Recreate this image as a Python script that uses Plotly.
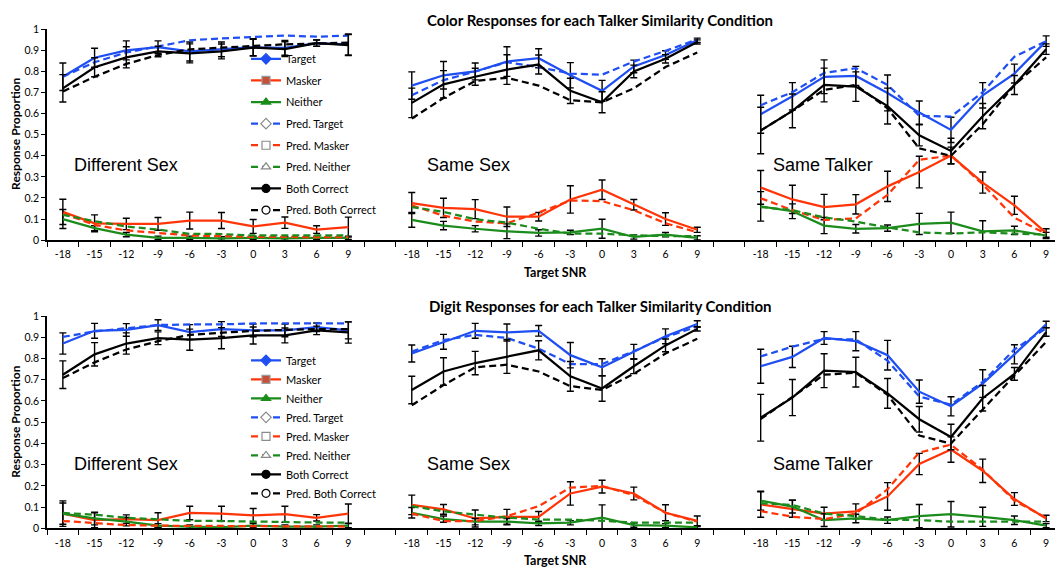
import plotly.graph_objects as go

# ---------------- data ----------------
snr = [-18, -15, -12, -9, -6, -3, 0, 3, 6, 9]
snr_labels = ["-18", "-15", "-12", "-9", "-6", "-3", "0", "3", "6", "9"]
conditions = ["Different Sex", "Same Sex", "Same Talker"]
row_titles = ["Color Responses for each Talker Similarity Condition",
              "Digit Responses for each Talker Similarity Condition"]
series_names = ["Target", "Masker", "Neither", "Pred. Target", "Pred. Masker",
                "Pred. Neither", "Both Correct", "Pred. Both Correct"]

# Color responses - Different Sex
c_ds_tgt = [0.775, 0.865, 0.90, 0.915, 0.895, 0.905, 0.915, 0.912, 0.935, 0.928]
c_ds_tgt_err = [0.065, 0.045, 0.045, 0.03, 0.045, 0.035, 0.04, 0.035, 0.015, 0.05]
c_ds_msk = [0.134, 0.08, 0.077, 0.077, 0.093, 0.093, 0.065, 0.083, 0.05, 0.062]
c_ds_msk_err = [0.06, 0.04, 0.027, 0.03, 0.04, 0.038, 0.033, 0.027, 0.018, 0.047]
c_ds_nei = [0.10, 0.057, 0.026, 0.011, 0.011, 0.008, 0.011, 0.008, 0.011, 0.011]
c_ds_nei_err = [0.045, 0.012, 0.01, 0.008, 0.008, 0.008, 0.008, 0.008, 0.008, 0.008]
c_ds_ptgt = [0.775, 0.844, 0.89, 0.918, 0.948, 0.957, 0.963, 0.97, 0.965, 0.97]
c_ds_pmsk = [0.127, 0.072, 0.046, 0.034, 0.022, 0.019, 0.015, 0.015, 0.014, 0.014]
c_ds_pnei = [0.12, 0.09, 0.065, 0.05, 0.03, 0.029, 0.022, 0.022, 0.022, 0.022]
c_ds_both = [0.72, 0.82, 0.867, 0.895, 0.886, 0.895, 0.913, 0.906, 0.934, 0.925]
c_ds_both_err = [0.065, 0.045, 0.05, 0.025, 0.045, 0.035, 0.04, 0.035, 0.015, 0.05]
c_ds_pboth = [0.705, 0.775, 0.836, 0.878, 0.905, 0.913, 0.921, 0.929, 0.932, 0.937]

# Color responses - Same Sex
c_ss_tgt = [0.733, 0.782, 0.80, 0.847, 0.863, 0.782, 0.708, 0.824, 0.878, 0.948]
c_ss_tgt_err = [0.065, 0.065, 0.04, 0.07, 0.045, 0.06, 0.05, 0.03, 0.02, 0.01]
c_ss_msk = [0.176, 0.153, 0.147, 0.111, 0.111, 0.193, 0.239, 0.168, 0.10, 0.049]
c_ss_msk_err = [0.05, 0.046, 0.045, 0.046, 0.02, 0.065, 0.046, 0.025, 0.03, 0.012]
c_ss_nei = [0.096, 0.069, 0.054, 0.042, 0.034, 0.037, 0.054, 0.015, 0.026, 0.011]
c_ss_nei_err = [0.035, 0.02, 0.015, 0.035, 0.015, 0.01, 0.045, 0.01, 0.01, 0.01]
c_ss_ptgt = [0.687, 0.759, 0.80, 0.844, 0.821, 0.79, 0.785, 0.847, 0.898, 0.952]
c_ss_pmsk = [0.165, 0.116, 0.088, 0.08, 0.131, 0.188, 0.185, 0.142, 0.08, 0.037]
c_ss_pnei = [0.157, 0.134, 0.099, 0.083, 0.054, 0.031, 0.031, 0.023, 0.019, 0.019]
c_ss_both = [0.651, 0.739, 0.775, 0.809, 0.833, 0.708, 0.654, 0.80, 0.86, 0.94]
c_ss_both_err = [0.07, 0.065, 0.04, 0.07, 0.045, 0.06, 0.05, 0.03, 0.02, 0.01]
c_ss_pboth = [0.577, 0.674, 0.755, 0.77, 0.733, 0.664, 0.654, 0.72, 0.821, 0.89]

# Color responses - Same Talker
c_st_tgt = [0.597, 0.682, 0.775, 0.779, 0.698, 0.605, 0.523, 0.687, 0.79, 0.944]
c_st_tgt_err = [0.09, 0.065, 0.08, 0.045, 0.085, 0.055, 0.06, 0.06, 0.045, 0.025]
c_st_msk = [0.25, 0.193, 0.157, 0.17, 0.255, 0.323, 0.401, 0.273, 0.165, 0.034]
c_st_msk_err = [0.08, 0.067, 0.06, 0.046, 0.072, 0.075, 0.04, 0.05, 0.043, 0.02]
c_st_nei = [0.16, 0.137, 0.069, 0.054, 0.057, 0.077, 0.083, 0.042, 0.046, 0.022]
c_st_nei_err = [0.07, 0.035, 0.038, 0.02, 0.015, 0.05, 0.05, 0.05, 0.02, 0.015]
c_st_ptgt = [0.64, 0.702, 0.793, 0.816, 0.736, 0.59, 0.586, 0.702, 0.87, 0.944]
c_st_pmsk = [0.199, 0.142, 0.096, 0.103, 0.215, 0.381, 0.401, 0.265, 0.106, 0.03]
c_st_pnei = [0.157, 0.142, 0.108, 0.088, 0.06, 0.037, 0.031, 0.037, 0.031, 0.026]
c_st_both = [0.52, 0.613, 0.736, 0.728, 0.636, 0.497, 0.423, 0.588, 0.736, 0.906]
c_st_both_err = [0.11, 0.08, 0.08, 0.07, 0.085, 0.05, 0.06, 0.06, 0.045, 0.025]
c_st_pboth = [0.52, 0.613, 0.713, 0.736, 0.625, 0.435, 0.40, 0.55, 0.736, 0.867]

# Digit responses - Different Sex
d_ds_tgt = [0.871, 0.931, 0.935, 0.958, 0.925, 0.939, 0.933, 0.933, 0.948, 0.933]
d_ds_tgt_err = [0.05, 0.035, 0.03, 0.025, 0.035, 0.035, 0.03, 0.03, 0.02, 0.04]
d_ds_msk = [0.069, 0.038, 0.043, 0.038, 0.072, 0.069, 0.061, 0.066, 0.049, 0.069]
d_ds_msk_err = [0.06, 0.035, 0.02, 0.035, 0.032, 0.035, 0.032, 0.038, 0.015, 0.045]
d_ds_nei = [0.069, 0.046, 0.031, 0.012, 0.008, 0.004, 0.012, 0.008, 0.008, 0.012]
d_ds_nei_err = [0.05, 0.03, 0.02, 0.01, 0.008, 0.004, 0.01, 0.008, 0.008, 0.01]
d_ds_ptgt = [0.902, 0.928, 0.943, 0.958, 0.961, 0.961, 0.966, 0.966, 0.966, 0.966]
d_ds_pmsk = [0.034, 0.023, 0.015, 0.012, 0.011, 0.011, 0.011, 0.008, 0.008, 0.008]
d_ds_pnei = [0.072, 0.064, 0.049, 0.041, 0.035, 0.034, 0.031, 0.031, 0.027, 0.026]
d_ds_both = [0.724, 0.82, 0.871, 0.896, 0.889, 0.896, 0.909, 0.909, 0.933, 0.923]
d_ds_both_err = [0.065, 0.055, 0.05, 0.03, 0.05, 0.05, 0.04, 0.035, 0.02, 0.05]
d_ds_pboth = [0.708, 0.782, 0.843, 0.882, 0.912, 0.923, 0.931, 0.935, 0.939, 0.939]

# Digit responses - Same Sex
d_ss_tgt = [0.824, 0.879, 0.931, 0.923, 0.931, 0.816, 0.759, 0.832, 0.905, 0.963]
d_ss_tgt_err = [0.04, 0.035, 0.035, 0.04, 0.025, 0.06, 0.04, 0.035, 0.035, 0.015]
d_ss_msk = [0.11, 0.089, 0.046, 0.054, 0.054, 0.164, 0.196, 0.164, 0.073, 0.035]
d_ss_msk_err = [0.046, 0.023, 0.04, 0.035, 0.025, 0.055, 0.03, 0.03, 0.038, 0.023]
d_ss_nei = [0.073, 0.043, 0.031, 0.031, 0.023, 0.026, 0.05, 0.015, 0.012, 0.004]
d_ss_nei_err = [0.025, 0.015, 0.015, 0.015, 0.01, 0.01, 0.06, 0.01, 0.01, 0.005]
d_ss_ptgt = [0.833, 0.887, 0.912, 0.897, 0.847, 0.774, 0.774, 0.835, 0.901, 0.951]
d_ss_pmsk = [0.069, 0.034, 0.034, 0.057, 0.104, 0.192, 0.199, 0.156, 0.073, 0.031]
d_ss_pnei = [0.104, 0.08, 0.064, 0.05, 0.041, 0.041, 0.035, 0.027, 0.027, 0.027]
d_ss_both = [0.652, 0.739, 0.779, 0.81, 0.839, 0.716, 0.659, 0.764, 0.862, 0.94]
d_ss_both_err = [0.065, 0.065, 0.055, 0.08, 0.045, 0.07, 0.06, 0.035, 0.03, 0.01]
d_ss_pboth = [0.58, 0.675, 0.759, 0.771, 0.739, 0.67, 0.652, 0.728, 0.824, 0.893]

# Digit responses - Same Talker
d_st_tgt = [0.764, 0.808, 0.897, 0.882, 0.816, 0.644, 0.575, 0.682, 0.82, 0.961]
d_st_tgt_err = [0.08, 0.05, 0.03, 0.045, 0.07, 0.055, 0.045, 0.065, 0.045, 0.015]
d_st_msk = [0.112, 0.092, 0.069, 0.08, 0.15, 0.303, 0.371, 0.271, 0.138, 0.046]
d_st_msk_err = [0.06, 0.04, 0.03, 0.035, 0.065, 0.05, 0.06, 0.055, 0.03, 0.015]
d_st_nei = [0.13, 0.102, 0.038, 0.046, 0.038, 0.057, 0.066, 0.054, 0.038, 0.012]
d_st_nei_err = [0.045, 0.03, 0.03, 0.02, 0.015, 0.055, 0.06, 0.045, 0.02, 0.01]
d_st_ptgt = [0.81, 0.856, 0.893, 0.89, 0.79, 0.621, 0.583, 0.69, 0.843, 0.943]
d_st_pmsk = [0.081, 0.054, 0.043, 0.069, 0.184, 0.357, 0.394, 0.276, 0.13, 0.049]
d_st_pnei = [0.118, 0.11, 0.069, 0.057, 0.041, 0.038, 0.031, 0.031, 0.034, 0.031]
d_st_both = [0.521, 0.616, 0.743, 0.736, 0.636, 0.514, 0.43, 0.613, 0.728, 0.925]
d_st_both_err = [0.11, 0.085, 0.08, 0.07, 0.07, 0.06, 0.06, 0.06, 0.03, 0.02]
d_st_pboth = [0.515, 0.621, 0.724, 0.733, 0.629, 0.437, 0.399, 0.56, 0.72, 0.879]

# ---------------- assemble ----------------
def panel(tgt, tgt_err, msk, msk_err, nei, nei_err, ptgt, pmsk, pnei, both, both_err, pboth):
    return [(tgt, tgt_err), (msk, msk_err), (nei, nei_err), (ptgt, None), (pmsk, None),
            (pnei, None), (both, both_err), (pboth, None)]

panels = [
    [panel(c_ds_tgt, c_ds_tgt_err, c_ds_msk, c_ds_msk_err, c_ds_nei, c_ds_nei_err,
           c_ds_ptgt, c_ds_pmsk, c_ds_pnei, c_ds_both, c_ds_both_err, c_ds_pboth),
     panel(c_ss_tgt, c_ss_tgt_err, c_ss_msk, c_ss_msk_err, c_ss_nei, c_ss_nei_err,
           c_ss_ptgt, c_ss_pmsk, c_ss_pnei, c_ss_both, c_ss_both_err, c_ss_pboth),
     panel(c_st_tgt, c_st_tgt_err, c_st_msk, c_st_msk_err, c_st_nei, c_st_nei_err,
           c_st_ptgt, c_st_pmsk, c_st_pnei, c_st_both, c_st_both_err, c_st_pboth)],
    [panel(d_ds_tgt, d_ds_tgt_err, d_ds_msk, d_ds_msk_err, d_ds_nei, d_ds_nei_err,
           d_ds_ptgt, d_ds_pmsk, d_ds_pnei, d_ds_both, d_ds_both_err, d_ds_pboth),
     panel(d_ss_tgt, d_ss_tgt_err, d_ss_msk, d_ss_msk_err, d_ss_nei, d_ss_nei_err,
           d_ss_ptgt, d_ss_pmsk, d_ss_pnei, d_ss_both, d_ss_both_err, d_ss_pboth),
     panel(d_st_tgt, d_st_tgt_err, d_st_msk, d_st_msk_err, d_st_nei, d_st_nei_err,
           d_st_ptgt, d_st_pmsk, d_st_pnei, d_st_both, d_st_both_err, d_st_pboth)],
]

# ---------------- styles ----------------
BLUE = "#1f4ff2"
RED = "#ff3508"
GREEN = "#1b8c1b"
BLACK = "#000000"
DASH = "7px,4px"
styles = [
    dict(color=BLUE, dash="solid", symbol="diamond", mfill=BLUE, mline=BLUE),
    dict(color=RED, dash="solid", symbol="square", mfill="#c4503a", mline="#9a9a9a"),
    dict(color=GREEN, dash="solid", symbol="triangle-up", mfill=GREEN, mline=GREEN),
    dict(color=BLUE, dash=DASH, symbol="diamond", mfill="white", mline="#8a8a8a"),
    dict(color=RED, dash=DASH, symbol="square", mfill="white", mline="#8a8a8a"),
    dict(color=GREEN, dash=DASH, symbol="triangle-up", mfill="white", mline="#8a8a8a"),
    dict(color=BLACK, dash="solid", symbol="circle", mfill=BLACK, mline=BLACK),
    dict(color=BLACK, dash=DASH, symbol="circle", mfill="white", mline=BLACK),
]

# page (screenshot) pixel -> paper coordinates; page body has an 8px margin
OX, OY = 8, 8
W, H = 1055, 570


def px(x):
    return (x - OX) / W


def py(y):
    return 1 - (y - OY) / H


x_px = [(47, 380.06), (380.06, 728.96), (728.96, 1062)]
x_rng = [(-19.5, 12), (-21, 12), (-21, 10.5)]
y_px = [(23, 239), (316, 533.3)]
minor_ticks = [snr[0] - 1.5] + [v + 1.5 for v in snr]

TICKFONT = dict(family="Lato", size=10.5, color="black")
fig = go.Figure()
layout = {}

for r in range(2):
    for c in range(3):
        k = r * 3 + c + 1
        xa = "x" if k == 1 else f"x{k}"
        ya = "y" if k == 1 else f"y{k}"
        for s_idx, (vals, err) in enumerate(panels[r][c]):
            st = styles[s_idx]
            tr = dict(x=snr, y=vals, mode="lines",
                      line=dict(color=st["color"], width=2.25, dash=st["dash"]),
                      showlegend=False, hoverinfo="skip", xaxis=xa, yaxis=ya)
            if err is not None:
                tr["error_y"] = dict(type="data", array=err, visible=True, color="black",
                                     thickness=1.4, width=3.5)
            fig.add_trace(go.Scatter(**tr))
        x0, x1 = x_px[c]
        layout["xaxis" if k == 1 else f"xaxis{k}"] = dict(
            domain=[px(x0), px(x1)], range=list(x_rng[c]), anchor=ya,
            showline=True, linecolor="black", linewidth=1.5, showgrid=False, zeroline=False,
            tickmode="array", tickvals=snr, ticktext=snr_labels, ticks="outside",
            tickcolor="rgba(0,0,0,0)", ticklen=4, tickfont=TICKFONT,
            minor=dict(tickmode="array", tickvals=minor_ticks, ticks="outside",
                       ticklen=5, tickwidth=1, tickcolor="black"),
        )
        yt, yb = y_px[r]
        layout["yaxis" if k == 1 else f"yaxis{k}"] = dict(
            domain=[py(yb), py(yt)], range=[0, 1.003], anchor=xa,
            showgrid=False, zeroline=False,
            showline=(c == 0), linecolor="black", linewidth=1.5,
            ticks="outside" if c == 0 else "", ticklen=4, tickcolor="black",
            tickmode="linear", tick0=0, dtick=0.1, showticklabels=(c == 0),
            tickfont=TICKFONT,
        )

# legend-only entries (lines + markers), one legend per row
for r in range(2):
    xa = "x" if r == 0 else "x4"
    ya = "y" if r == 0 else "y4"
    for s_idx, name in enumerate(series_names):
        st = styles[s_idx]
        fig.add_trace(go.Scatter(
            x=[None], y=[None], mode="lines+markers", name=name,
            line=dict(color=st["color"], width=2.25, dash=st["dash"]),
            marker=dict(symbol=st["symbol"], size=8, color=st["mfill"],
                        line=dict(color=st["mline"], width=1.2)),
            legend="legend" if r == 0 else "legend2",
            legendgroup=f"g{r}_{s_idx}", xaxis=xa, yaxis=ya, hoverinfo="skip"))

LEGFONT = dict(family="Lato", size=11, color="black")
layout["legend"] = dict(x=px(246), y=py(39), xanchor="left", yanchor="top",
                        bgcolor="rgba(0,0,0,0)", font=LEGFONT, itemwidth=30,
                        traceorder="grouped", tracegroupgap=2.6)
layout["legend2"] = dict(x=px(246), y=py(347), xanchor="left", yanchor="top",
                         bgcolor="rgba(0,0,0,0)", font=LEGFONT, itemwidth=30,
                         traceorder="grouped", tracegroupgap=0)

annotations = []
title_y = [14, 306]
xt_y = [272, 566]
yt_c = [131, 425]
cond_y = [162, 468]
cond_x = [126, 468, 823]
for r in range(2):
    annotations.append(dict(text=row_titles[r], x=px(600), y=py(title_y[r]),
                            xref="paper", yref="paper", showarrow=False,
                            xanchor="center", yanchor="middle",
                            font=dict(family="Lato", size=15, color="black", weight="bold")))
    annotations.append(dict(text="Target SNR", x=px(555), y=py(xt_y[r]),
                            xref="paper", yref="paper", showarrow=False,
                            xanchor="center", yanchor="middle",
                            font=dict(family="Lato", size=12.5, color="black", weight="bold")))
    annotations.append(dict(text="Response Proportion", x=px(15.5), y=py(yt_c[r]),
                            xref="paper", yref="paper", showarrow=False, textangle=-90,
                            xanchor="center", yanchor="middle", borderpad=0,
                            font=dict(family="Lato", size=12, color="black", weight="bold")))
    for c in range(3):
        annotations.append(dict(text=conditions[c], x=px(cond_x[c]), y=py(cond_y[r]),
                                xref="paper", yref="paper", showarrow=False,
                                xanchor="center", yanchor="middle",
                                font=dict(family="Liberation Sans", size=18, color="black")))

layout["annotations"] = annotations
fig.update_layout(**layout)
fig.update_layout(width=W, height=H, margin=dict(l=0, r=0, t=0, b=0),
                  paper_bgcolor="white", plot_bgcolor="white")

fig.write_html("out.html")
